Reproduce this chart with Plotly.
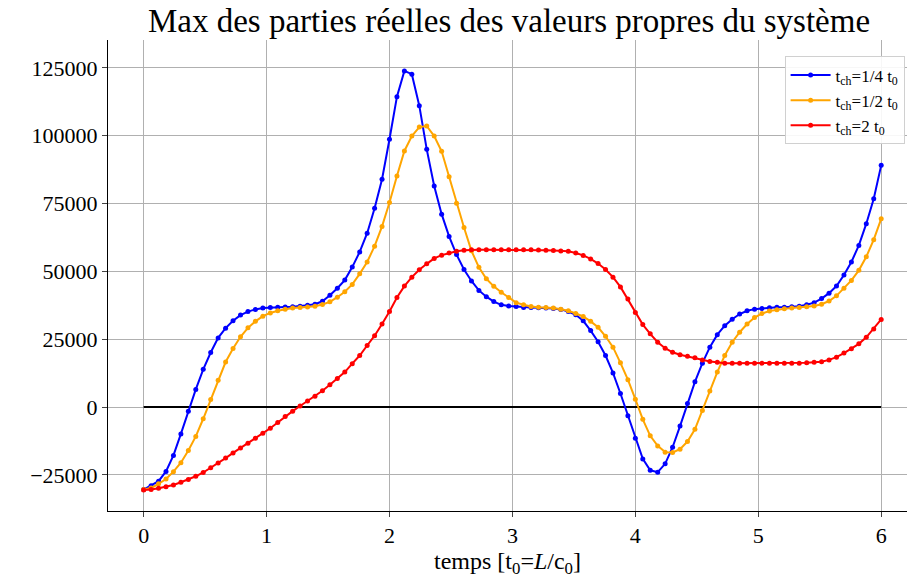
import numpy as np
import plotly.graph_objects as go

t = [round(6 * i / 99, 4) for i in range(100)]

blue = [-30.4,-29,-27.3,-23.7,-17.8,-9.9,-1.5,6.5,13.9,20.1,25.5,29.1,31.8,33.9,35.2,36,36.5,36.7,36.8,36.9,
        37,37.2,37.5,37.9,39,41.2,43.8,46.8,51.6,57.2,64.1,73.3,84,98.7,114.4,123.9,122.7,111.1,95,81.5,
        71.1,62.9,56.2,50.7,46.5,43,40.7,38.9,37.7,37.3,37.1,36.7,36.7,36.6,36.5,36.3,36,35.2,34,31.8,
        28.2,24.1,19,12.6,5,-3.2,-11.5,-19.1,-23.3,-24,-20.9,-14.8,-7,1.3,9.3,16.2,22.1,26.7,30,32.4,
        34.3,35.5,36.1,36.3,36.6,36.8,36.8,37,37.2,37.7,38.5,40,42,44.6,48.7,53.5,59.6,67.6,76.8,89.1]
orange = [-30.4,-29.8,-28.3,-26.5,-23.8,-20.5,-16,-10.8,-4.3,2.8,9.9,16.6,21.6,25.9,29.2,31.6,33.5,34.7,35.5,36.1,
          36.5,36.7,36.9,37.2,37.8,38.8,40.5,42.5,45.2,49.1,53.5,59.3,66.6,75.4,85.2,94.4,99.9,103.2,103.6,99.9,
          94.3,84.9,75.1,66.2,57.6,51.5,47.3,44.5,42.3,40.4,38.5,37.7,37.1,36.8,36.7,36.5,36.1,35.5,34.5,33.4,
          31.6,29.4,26.1,22.1,16.3,10.1,2.9,-4.5,-10.6,-14.3,-16.6,-16.7,-15.5,-12.7,-8.2,-1.3,5.9,12.9,19,23.9,
          27.6,30.6,33,34.5,35.4,35.9,36.2,36.5,36.7,37,37.3,37.9,39.1,41,43.8,46.7,50.4,55.4,61.7,69.4]
red = [-30.6,-30.4,-29.9,-29.4,-28.7,-27.7,-26.7,-25.5,-24.1,-22.4,-20.6,-18.8,-16.9,-15.1,-13.3,-11.5,-9.6,-7.8,-5.7,-3.5,
       -1.5,0.4,2.2,4,6,8.2,10.5,12.9,16,19,22.7,26.3,30.6,35.2,40.4,44.6,47.9,50.6,52.8,54.8,
       56,56.8,57.4,57.8,58,58,58,58,58,58,58,58,58,57.9,57.8,57.7,57.5,57.4,56.8,55.9,
       54.6,52.9,50.7,47.9,44.3,39.8,34.9,30.4,27,23.9,21.7,20.2,19.3,18.7,18.2,17.4,16.8,16.5,16.2,16.2,
       16.2,16.2,16.2,16.2,16.2,16.2,16.2,16.2,16.2,16.3,16.5,16.7,17.4,18.4,19.9,21.5,23.3,25.7,28.8,32.3]

names = ["t<sub>ch</sub>=1/4 t<sub>0</sub>", "t<sub>ch</sub>=1/2 t<sub>0</sub>", "t<sub>ch</sub>=2 t<sub>0</sub>"]
colors = ["blue", "orange", "red"]
FONT = "Liberation Serif, DejaVu Serif, serif"

fig = go.Figure()
fig.add_trace(go.Scatter(x=[t[0], t[-1]], y=[0, 0], mode="lines", line=dict(color="black", width=2), showlegend=False))
for s, n, c in zip([blue, orange, red], names, colors):
    fig.add_trace(go.Scatter(x=t, y=[v * 1000 for v in s], mode="lines+markers", name=n,
                             line=dict(color=c, width=2), marker=dict(color=c, size=5)))

fig.update_layout(
    width=909, height=579, paper_bgcolor="white", plot_bgcolor="white",
    margin=dict(l=108, r=2, t=40, b=68, autoexpand=False),
    font=dict(family=FONT, color="black", size=22),
    title=dict(text="Max des parties réelles des valeurs propres du système", x=0.56, y=0.984,
               xanchor="center", yanchor="top", font=dict(size=33, family=FONT)),
    legend=dict(x=0.997, y=0.965, xanchor="right", yanchor="top", bgcolor="rgba(255,255,255,0.9)",
                bordercolor="#d0d0d0", borderwidth=1, font=dict(size=17, family=FONT),
                itemwidth=40, tracegroupgap=0),
    xaxis=dict(range=[-0.29, 6.21], tickvals=[0, 1, 2, 3, 4, 5, 6], showgrid=True, gridcolor="#b0b0b0",
               showline=True, linecolor="black", linewidth=1, ticks="outside", ticklen=5, zeroline=False,
               automargin=False,
               title=dict(text="temps [t<sub>0</sub>=<i>L</i>/c<sub>0</sub>]", standoff=0, font=dict(size=24))),
    yaxis=dict(range=[-38300, 135300], tickvals=[-25000, 0, 25000, 50000, 75000, 100000, 125000],
               ticktext=["−25000", "0", "25000", "50000", "75000", "100000", "125000"],
               showgrid=True, gridcolor="#b0b0b0", showline=True, linecolor="black", linewidth=1,
               ticks="outside", ticklen=5, zeroline=False, automargin=False),
)
fig.write_html("out.html", config={"displayModeBar": False},
               post_script="document.body.style.margin='0';document.body.style.overflow='hidden';")
